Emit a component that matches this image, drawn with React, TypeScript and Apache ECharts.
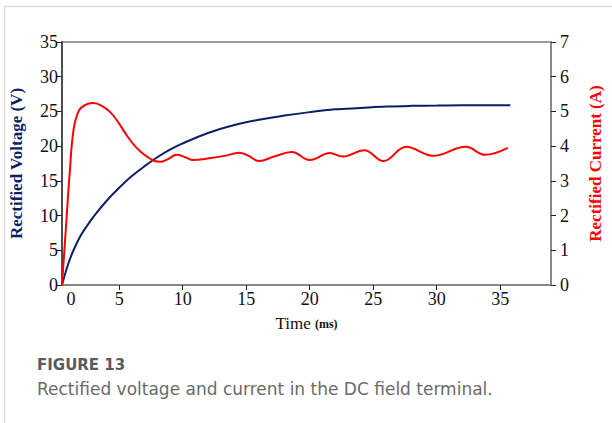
import React, { useEffect, useRef } from "react";
import * as echarts from "echarts";

const voltageTime = [0.5, 1, 1.5, 2, 2.5, 3, 4, 5, 6, 7, 8, 9, 10, 12, 14, 16, 18, 20, 22, 24, 26, 28, 30, 32, 35.8];
const voltageValues = [0, 3.1, 5.4, 7.2, 8.6, 9.9, 12.1, 14.0, 15.7, 17.1, 18.4, 19.5, 20.4, 21.9, 23.0, 23.8, 24.4, 24.9, 25.3, 25.5, 25.7, 25.8, 25.85, 25.9, 25.9];

const currentTime = [0.5, 0.8, 1.1, 1.4, 1.8, 2.3, 2.96, 3.6, 4.3, 5.0, 5.67, 6.3, 6.96, 7.74, 8.26, 8.8, 9.55, 10.2, 10.84, 12.1, 13.3, 14.46, 15.2, 16.0, 17.2, 18.6, 20.0, 21.6, 22.6, 24.3, 25.8, 27.6, 29.7, 32.3, 33.8, 35.6];
const currentValues = [0, 1.6, 3.2, 4.45, 5.0, 5.18, 5.24, 5.17, 4.98, 4.65, 4.27, 3.98, 3.76, 3.58, 3.55, 3.62, 3.75, 3.68, 3.6, 3.65, 3.72, 3.81, 3.72, 3.57, 3.7, 3.83, 3.6, 3.8, 3.7, 3.88, 3.57, 3.98, 3.72, 3.98, 3.75, 3.95];

const xTickValues = [1.2, 5, 10, 15, 20, 25, 30, 35];
const xTickLabels = ["0", "5", "10", "15", "20", "25", "30", "35"];

const NAVY = "#0a1f66";
const RED = "#ff0000";
const SERIF = "'Liberation Serif', 'Times New Roman', serif";

export default function App() {
  const ref = useRef<HTMLDivElement>(null);
  useEffect(() => {
    document.body.style.margin = "0";
    const chart = echarts.init(ref.current!, null, { renderer: "svg" });
    chart.setOption({
      animation: false,
      backgroundColor: "#fff",
      textStyle: { fontFamily: SERIF },
      grid: {
        left: 60,
        right: 56,
        top: 42,
        bottom: 138,
        show: true,
        borderColor: "#808080",
        borderWidth: 1.5,
      },
      xAxis: {
        type: "value",
        min: 0.5,
        max: 39,
        name: "Time {b|(ms)}",
        nameLocation: "middle",
        nameGap: 30,
        nameTextStyle: {
          fontFamily: SERIF,
          fontSize: 17,
          color: "#111",
          rich: { b: { fontFamily: SERIF, fontSize: 12, fontWeight: "bold", color: "#111" } },
        },
        axisLine: { show: true, lineStyle: { color: "#808080", width: 1.5 } },
        axisTick: { show: true, customValues: xTickValues.slice(1), length: 5, lineStyle: { color: "#222" } },
        axisLabel: {
          customValues: xTickValues,
          formatter: (v: number) => xTickLabels[xTickValues.indexOf(v)] ?? "",
          fontFamily: SERIF,
          fontSize: 18,
          color: "#111",
          margin: 5,
        },
        splitLine: { show: false },
      },
      yAxis: [
        {
          type: "value",
          min: 0,
          max: 35,
          interval: 5,
          name: "Rectified Voltage (V)",
          nameLocation: "middle",
          nameRotate: 90,
          nameGap: 37,
          nameTextStyle: { fontFamily: SERIF, fontSize: 17, fontWeight: "bold", color: NAVY },
          axisLine: { show: true, lineStyle: { color: "#333", width: 1.5 } },
          axisTick: { show: true, length: 5, lineStyle: { color: "#222" } },
          axisLabel: { fontFamily: SERIF, fontSize: 18, color: "#111", margin: 4 },
          splitLine: { show: false },
        },
        {
          type: "value",
          min: 0,
          max: 7,
          interval: 1,
          position: "right",
          name: "Rectified Current (A)",
          nameLocation: "middle",
          nameRotate: 90,
          nameGap: 36,
          nameTextStyle: { fontFamily: SERIF, fontSize: 17, fontWeight: "bold", color: RED },
          axisLine: { show: true, lineStyle: { color: "#808080", width: 1.5 } },
          axisTick: { show: true, length: 5, lineStyle: { color: "#222" } },
          axisLabel: { fontFamily: SERIF, fontSize: 18, color: "#111", margin: 9 },
          splitLine: { show: false },
        },
      ],
      series: [
        {
          type: "line",
          yAxisIndex: 0,
          data: voltageTime.map((t, i) => [t, voltageValues[i]]),
          smooth: 0.35,
          showSymbol: false,
          lineStyle: { color: NAVY, width: 2 },
        },
        {
          type: "line",
          yAxisIndex: 1,
          data: currentTime.map((t, i) => [t, currentValues[i]]),
          smooth: 0.4,
          showSymbol: false,
          lineStyle: { color: RED, width: 2 },
        },
      ],
      graphic: [
        { type: "line", shape: { x1: 4, y1: 6.5, x2: 612, y2: 6.5 }, style: { stroke: "#dcdcdc", lineWidth: 1.5 } },
        { type: "line", shape: { x1: 4.5, y1: 6, x2: 4.5, y2: 423 }, style: { stroke: "#dcdcdc", lineWidth: 1.5 } },
        {
          type: "text",
          left: 37,
          top: 357,
          style: { text: "FIGURE 13", font: "bold 15px 'DejaVu Sans'", fill: "#5a5a5a" },
        },
        {
          type: "text",
          left: 37,
          top: 380,
          style: { text: "Rectified voltage and current in the DC field terminal.", font: "17px 'DejaVu Sans'", fill: "#6a6a6a" },
        },
      ],
    });
    return () => chart.dispose();
  }, []);
  return <div ref={ref} style={{ width: 612, height: 423 }} />;
}
